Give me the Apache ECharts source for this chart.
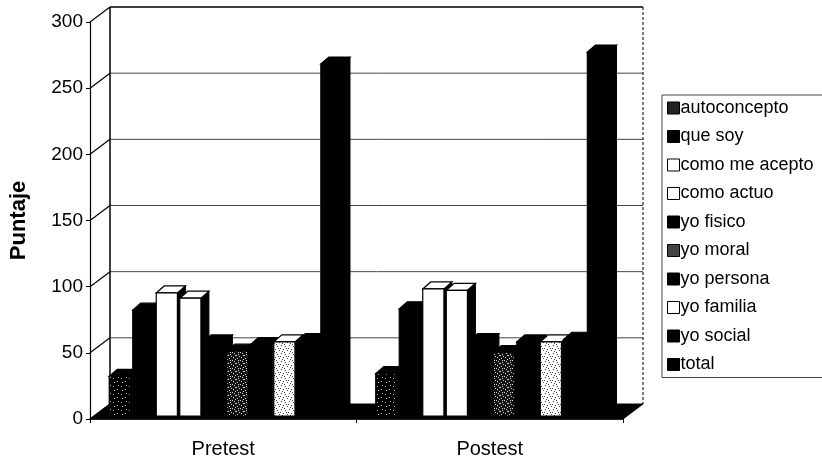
<!DOCTYPE html>
<html>
<head>
<meta charset="utf-8">
<script src="https://cdn.jsdelivr.net/npm/echarts@6/dist/echarts.min.js"></script>
<style>
  html, body { margin: 0; padding: 0; background: #fff; }
  #chart { width: 822px; height: 459px; }
</style>
</head>
<body>
<div id="chart"></div>
<script>
// Scores per dimension, before and after the programme
const categories = ['Pretest', 'Postest'];
const seriesNames = ['autoconcepto', 'que soy', 'como me acepto', 'como actuo', 'yo fisico',
                     'yo moral', 'yo persona', 'yo familia', 'yo social', 'total'];
const pretest = [30, 80, 93, 89, 56, 49, 54, 56, 57, 266];
const postest = [32, 81, 96, 95, 57, 48, 56, 56, 58, 275];
const yTicks = [0, 50, 100, 150, 200, 250, 300];

const FONT = '"Liberation Sans", Arial, sans-serif';
// depth of the back wall and of each column (pixels)
const WALL = { dx: 20, dy: -15 };
const BAR = { ox: 0, oy: -3, dx: 8, dy: -7 };
const GROUP_START = 19.3 / 267.5;  // fraction of the band before the first column
const SLOT = 23.6 / 267.5;         // fraction of the band per column
const FACE = 0.9;                  // front face share of a slot

// small tiled fills for the stippled columns
function speckle(bg, fg, pts, size) {
  const c = document.createElement('canvas');
  c.width = c.height = size;
  const g = c.getContext('2d');
  g.fillStyle = bg; g.fillRect(0, 0, size, size);
  g.fillStyle = fg;
  pts.forEach(p => g.fillRect(p[0], p[1], 1, 1));
  return { image: c, repeat: 'repeat' };
}
const darkStipple = speckle('#000', '#bbb', [[1, 2], [5, 5], [6, 1], [2, 6]], 8);
const midStipple = speckle('#111', '#d8d8d8', [[0, 0], [2, 1], [4, 3], [6, 2], [1, 5], [5, 6], [3, 7], [7, 4], [6, 0], [3, 3]], 8);
const lightStipple = speckle('#fff', '#444', [[1, 1], [5, 2], [3, 5], [7, 6], [0, 4], [6, 4], [2, 7], [4, 0]], 8);

const fills = ['darkStipple', 'black', 'white', 'white', 'black',
               'midStipple', 'black', 'lightStipple', 'black', 'black'];
function fillOf(kind) {
  if (kind === 'darkStipple') return darkStipple;
  if (kind === 'midStipple') return midStipple;
  if (kind === 'lightStipple') return lightStipple;
  return kind === 'white' ? '#fff' : '#000';
}
function legendFillOf(kind) {
  if (kind === 'darkStipple') return '#222';
  if (kind === 'midStipple') return '#444';
  if (kind === 'lightStipple') return '#fff';
  return kind === 'white' ? '#fff' : '#000';
}

// floor, back wall, gridlines and the diagonals joining front and back
function renderFrame(params, api) {
  const cs = params.coordSys;
  const x0 = cs.x, x1 = cs.x + cs.width;
  const yb = cs.y + cs.height, yt = cs.y;
  const children = [];
  children.push({
    type: 'polygon',
    shape: { points: [[x0, yb], [x1, yb], [x1 + WALL.dx, yb + WALL.dy], [x0 + WALL.dx, yb + WALL.dy]] },
    style: { fill: '#000', stroke: '#000', lineWidth: 1 }
  });
  yTicks.forEach(v => {
    const y = api.coord([0, v])[1];
    if (v > 0) {
      children.push({
        type: 'line',
        shape: { x1: x0 + WALL.dx, y1: y + WALL.dy, x2: x1 + WALL.dx, y2: y + WALL.dy },
        style: { stroke: v === 300 ? '#000' : '#444', lineWidth: v === 300 ? 1.5 : 1 }
      });
    }
    children.push({
      type: 'line',
      shape: { x1: x0, y1: y, x2: x0 + WALL.dx, y2: y + WALL.dy },
      style: { stroke: '#000', lineWidth: 1.2 }
    });
  });
  children.push({
    type: 'line',
    shape: { x1: x0 + WALL.dx, y1: yt + WALL.dy, x2: x0 + WALL.dx, y2: yb + WALL.dy },
    style: { stroke: '#000', lineWidth: 1.5 }
  });
  children.push({
    type: 'line',
    shape: { x1: x1 + WALL.dx, y1: yt + WALL.dy, x2: x1 + WALL.dx, y2: yb + WALL.dy },
    style: { stroke: '#222', lineWidth: 1.2, lineDash: [3, 2] }
  });
  return { type: 'group', children: children };
}

function makeRenderBar(k) {
  return function (params, api) {
    const cat = api.value(0);
    const val = api.value(1);
    const band = api.size([1, 0])[0];
    const base = api.coord([cat, 0]);
    const top = api.coord([cat, val]);
    const w = band * SLOT * FACE;
    const x = base[0] - band / 2 + band * GROUP_START + k * band * SLOT + BAR.ox;
    const yb = base[1] + BAR.oy;
    const yt = top[1] + BAR.oy;
    const white = fills[k] === 'white' || fills[k] === 'lightStipple';
    return {
      type: 'group',
      children: [
        {
          type: 'polygon',
          shape: { points: [[x + w, yt], [x + w + BAR.dx, yt + BAR.dy], [x + w + BAR.dx, yb + BAR.dy], [x + w, yb]] },
          style: { fill: '#000', stroke: '#000', lineWidth: 1 }
        },
        {
          type: 'polygon',
          shape: { points: [[x, yt], [x + w, yt], [x + w + BAR.dx, yt + BAR.dy], [x + BAR.dx, yt + BAR.dy]] },
          style: { fill: white ? '#fff' : '#000', stroke: '#000', lineWidth: 1.2 }
        },
        {
          type: 'rect',
          shape: { x: x, y: yt, width: w, height: yb - yt },
          style: { fill: fillOf(fills[k]), stroke: '#000', lineWidth: 1.2 }
        }
      ]
    };
  };
}

const barSeries = seriesNames.map((name, k) => ({
  type: 'custom',
  name: name,
  renderItem: makeRenderBar(k),
  encode: { x: 0, y: 1 },
  data: categories.map((c, i) => [i, i === 0 ? pretest[k] : postest[k]]),
  itemStyle: { color: legendFillOf(fills[k]), borderColor: '#000', borderWidth: 1 },
  z: 3
}));

const chart = echarts.init(document.getElementById('chart'), null, { renderer: 'canvas' });
chart.setOption({
  backgroundColor: '#fff',
  animation: false,
  textStyle: { fontFamily: FONT },
  grid: { left: 88, top: 22, width: 535, height: 397 },
  xAxis: {
    type: 'category',
    data: categories,
    axisLine: { show: true, lineStyle: { color: '#000', width: 1.5 } },
    axisTick: { show: true, length: 4, lineStyle: { color: '#000' } },
    axisLabel: { color: '#000', fontSize: 20, fontFamily: FONT, margin: 20 }
  },
  yAxis: {
    type: 'value',
    min: 0, max: 300, interval: 50,
    name: 'Puntaje',
    nameLocation: 'middle',
    nameGap: 60,
    nameRotate: 90,
    nameTextStyle: { color: '#000', fontSize: 22, fontWeight: 'bold', fontFamily: FONT },
    axisLine: { show: true, lineStyle: { color: '#000', width: 1.2 } },
    axisTick: { show: true, length: 4, lineStyle: { color: '#000' } },
    axisLabel: { color: '#000', fontSize: 19, fontFamily: FONT, margin: 7 },
    splitLine: { show: false }
  },
  legend: {
    orient: 'vertical',
    left: 662,
    top: 95,
    padding: [4, 60, 4, 5],
    itemGap: 10.5,
    itemWidth: 12,
    itemHeight: 12,
    icon: 'rect',
    borderColor: '#444',
    borderWidth: 1,
    textStyle: { color: '#000', fontSize: 18, fontFamily: FONT, lineHeight: 17, padding: [0, 0, 0, -4] },
    data: seriesNames.map((n, k) => ({
      name: n,
      itemStyle: { color: legendFillOf(fills[k]), borderColor: '#000', borderWidth: 1 }
    }))
  },
  series: [{
    type: 'custom',
    name: 'frame',
    renderItem: renderFrame,
    data: [[0, 0]],
    encode: { x: 0, y: 1 },
    silent: true,
    z: 1
  }].concat(barSeries)
});
</script>
</body>
</html>
